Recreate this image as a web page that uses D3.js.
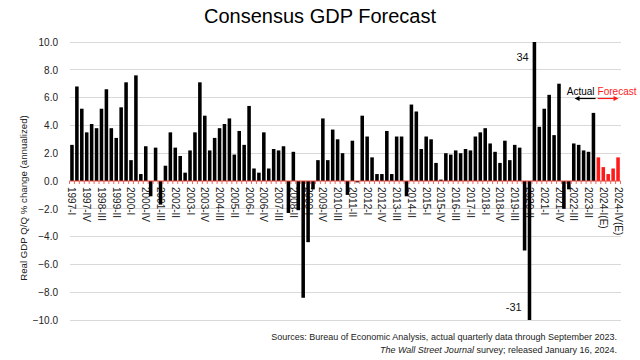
<!DOCTYPE html>
<html><head><meta charset="utf-8">
<script src="https://cdn.jsdelivr.net/npm/d3@7"></script>
<style>
body{margin:0;background:#fff}
text{font-family:"Liberation Sans",Arial,sans-serif}
</style>
</head><body>
<svg id="chart" width="640" height="360"></svg>
<script>
// ---- data ----
const years = [1997,1998,1999,2000,2001,2002,2003,2004,2005,2006,2007,2008,2009,2010,2011,2012,2013,2014,2015,2016,2017,2018,2019,2020,2021,2022,2023];
const quarterNames = ["I","II","III","IV"];
const actualValues = [
  2.6, 6.8, 5.2, 3.5,
  4.1, 3.8, 5.2, 6.6,
  3.8, 3.1, 5.3, 7.1,
  1.5, 7.6, 0.5, 2.5,
  -1.1, 2.4, -1.7, 1.1,
  3.5, 2.4, 1.8, 0.6,
  2.2, 3.5, 7.1, 4.7,
  2.2, 3.1, 3.8, 4.1,
  4.5, 1.9, 3.6, 2.6,
  5.4, 0.9, 0.6, 3.5,
  0.9, 2.3, 2.2, 2.5,
  -2.3, 2.1, -2.1, -8.4,
  -4.4, -0.6, 1.5, 4.5,
  1.5, 3.7, 3.0, 2.0,
  -1.0, 2.9, -0.1, 4.7,
  3.2, 1.7, 0.5, 0.5,
  3.6, 0.5, 3.2, 3.2,
  -1.1, 5.5, 5.0, 2.3,
  3.2, 3.0, 1.3, 0.1,
  2.0, 1.9, 2.2, 2.0,
  2.3, 2.2, 3.2, 3.5,
  3.8, 2.7, 2.1, 1.3,
  2.9, 1.5, 2.6, 2.4,
  -5.0, -31.0, 34.0, 3.9,
  5.2, 6.2, 3.3, 7.0,
  -2.0, -0.6, 2.7, 2.6,
  2.2, 2.1, 4.9
];
const forecastCategories = ["2023-IV(E)","2024-I(E)","2024-II(E)","2024-III(E)","2024-IV(E)"];
const forecastValues = [1.7, 1.0, 0.5, 0.9, 1.7];
const tickLabels = ["1997-I","1997-IV","1998-III","1999-II","2000-I","2000-IV","2001-III","2002-II","2003-I","2003-IV","2004-III","2005-II","2006-I","2006-IV","2007-III","2008-II","2009-I","2009-IV","2010-III","2011-II","2012-I","2012-IV","2013-III","2014-II","2015-I","2015-IV","2016-III","2017-II","2018-I","2018-IV","2019-III","2020-II","2021-I","2021-IV","2022-III","2023-II","2024-I(E)","2024-IV(E)"];
const yTicks = [10,8,6,4,2,0,-2,-4,-6,-8,-10];
const bigLabels = [{cat:"2020-III", text:"34"},{cat:"2020-II", text:"-31"}];

// ---- build table ----
const actualCategories = [];
years.forEach(yr => quarterNames.forEach(q => actualCategories.push(`${yr}-${q}`)));
actualCategories.length = actualValues.length;
const rows = actualCategories.map((c,i)=>({cat:c, value:actualValues[i], forecast:false}))
  .concat(forecastCategories.map((c,i)=>({cat:c, value:forecastValues[i], forecast:true})));

const svg = d3.select("#chart");
const x = d3.scaleBand().domain(rows.map(d=>d.cat)).range([69.5, 620.5]).paddingInner(0.28).paddingOuter(0.14);
const y = d3.scaleLinear().domain([-10,10]).range([320,42]).clamp(true);

// title
svg.append("text").attr("x",320).attr("y",23).attr("text-anchor","middle")
  .attr("font-size",20).attr("fill","#000").text("Consensus GDP Forecast");

// gridlines
svg.append("g").selectAll("line").data(yTicks.filter(t=>t!==0)).join("line")
  .attr("x1",69.5).attr("x2",620.5).attr("y1",d=>y(d)).attr("y2",d=>y(d))
  .attr("stroke","#d9d9d9").attr("stroke-width",1).attr("shape-rendering","crispEdges");

// y axis labels
const yAxis = svg.append("g").attr("transform","translate(66,0)")
  .call(d3.axisLeft(y).tickValues(yTicks).tickFormat(d3.format(".1f")).tickSize(0).tickPadding(8));
yAxis.select(".domain").remove();
yAxis.selectAll("text").attr("font-size",10).attr("fill","#222").style("font-family","'Liberation Sans',Arial,sans-serif");

// y title
svg.append("text").attr("transform","translate(24,198) rotate(-90)").attr("text-anchor","middle")
  .attr("dy","0.35em").attr("font-size",9.7).attr("fill","#222").text("Real GDP Q/Q % change (annualized)");

// x axis labels (rotated)
const xAxis = svg.append("g").attr("transform",`translate(0,${y(0)})`)
  .call(d3.axisBottom(x).tickValues(tickLabels).tickSize(0));
xAxis.select(".domain").remove();
xAxis.selectAll("text").attr("transform","rotate(90)").attr("text-anchor","start")
  .attr("x",6).attr("y",0).attr("dy","0.35em").attr("font-size",10).attr("fill","#222")
  .style("font-family","'Liberation Sans',Arial,sans-serif");

// bars
svg.append("g").selectAll("rect").data(rows).join("rect")
  .attr("x",d=>x(d.cat)).attr("width",x.bandwidth())
  .attr("y",d=>Math.min(y(d.value),y(0)))
  .attr("height",d=>Math.abs(y(d.value)-y(0)))
  .attr("fill",d=>d.forecast?"#ff1a1a":"#000");

// red axis line + ticks
const axisRed = "#e8483c";
svg.append("line").attr("x1",69.5).attr("x2",620.5).attr("y1",y(0)).attr("y2",y(0))
  .attr("stroke",axisRed).attr("stroke-width",1);
const step = x.step();
const x0 = x(rows[0].cat) - x.paddingInner()*step/2;
svg.append("g").selectAll("line").data(d3.range(rows.length+1)).join("line")
  .attr("x1",i=>x0+i*step).attr("x2",i=>x0+i*step)
  .attr("y1",y(0)).attr("y2",y(0)+3).attr("stroke",axisRed).attr("stroke-width",0.8);

// big value labels
svg.append("text").attr("x",x(bigLabels[0].cat)-10).attr("y",61).attr("text-anchor","middle")
  .attr("font-size",11).attr("fill","#111").text(bigLabels[0].text);
svg.append("text").attr("x",x(bigLabels[1].cat)-6).attr("y",311).attr("text-anchor","end")
  .attr("font-size",11).attr("fill","#111").text(bigLabels[1].text);

// actual / forecast legend
const lgX = x(forecastCategories[0]);
svg.append("text").attr("x",lgX-2).attr("y",95).attr("text-anchor","end")
  .attr("font-size",10).attr("fill","#000").text("Actual");
svg.append("text").attr("x",lgX+1).attr("y",95).attr("text-anchor","start")
  .attr("font-size",10).attr("fill","#ff1a1a").text("Forecast");
svg.append("line").attr("x1",lgX-1).attr("x2",lgX-19).attr("y1",98.5).attr("y2",98.5).attr("stroke","#000").attr("stroke-width",1.2);
svg.append("path").attr("d",`M${lgX-22},98.5 L${lgX-17},96 L${lgX-17},101 Z`).attr("fill","#000");
svg.append("line").attr("x1",lgX+1).attr("x2",lgX+19).attr("y1",98.5).attr("y2",98.5).attr("stroke","#ff1a1a").attr("stroke-width",1.2);
svg.append("path").attr("d",`M${lgX+22},98.5 L${lgX+17},96 L${lgX+17},101 Z`).attr("fill","#ff1a1a");

// sources
svg.append("text").attr("x",617).attr("y",340).attr("text-anchor","end").attr("font-size",9).attr("fill","#222")
  .text("Sources: Bureau of Economic Analysis, actual quarterly data through September 2023.");
const s2 = svg.append("text").attr("x",617).attr("y",353).attr("text-anchor","end").attr("font-size",9).attr("fill","#222");
s2.append("tspan").attr("font-style","italic").text("The Wall Street Journal");
s2.append("tspan").text(" survey; released January 16, 2024.");
</script>
</body></html>
